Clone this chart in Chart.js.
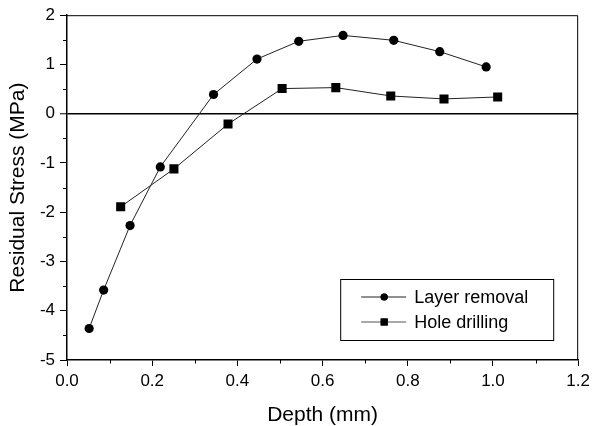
<!DOCTYPE html>
<html>
<head>
<meta charset="utf-8">
<script src="https://cdn.jsdelivr.net/npm/chart.js@4/dist/chart.umd.min.js"></script>
<style>
  html, body { margin: 0; padding: 0; background: #fff; }
  #wrap { width: 595px; height: 426px; }
</style>
</head>
<body>
<div id="wrap"><canvas id="stressChart"></canvas></div>
<script>
// depth (mm) and residual stress (MPa)
const layerDepth  = [0.052, 0.086, 0.148, 0.219, 0.344, 0.446, 0.544, 0.648, 0.767, 0.875, 0.984];
const layerStress = [-4.36, -3.58, -2.27, -1.08, 0.39, 1.11, 1.47, 1.59, 1.49, 1.26, 0.95];
const holeDepth   = [0.126, 0.251, 0.378, 0.505, 0.631, 0.760, 0.885, 1.011];
const holeStress  = [-1.89, -1.12, -0.21, 0.51, 0.53, 0.36, 0.30, 0.34];
const xTicks = [0.0, 0.2, 0.4, 0.6, 0.8, 1.0, 1.2];
const yTicks = [-5, -4, -3, -2, -1, 0, 1, 2];
const seriesNames = ['Layer removal', 'Hole drilling'];

const FONT = 'Liberation Sans, Arial, Helvetica, sans-serif';

function toPoints(xs, ys) {
  return xs.map((x, i) => ({ x: x, y: ys[i] }));
}

// minor ticks, top/right frame and the inset legend
const framePlugin = {
  id: 'frame',
  afterDraw(chart) {
    const ctx = chart.ctx;
    const area = chart.chartArea;
    const xs = chart.scales.x, ys = chart.scales.y;
    ctx.save();
    ctx.strokeStyle = '#000';
    ctx.lineWidth = 1;
    ctx.beginPath();
    ctx.moveTo(area.left, area.top + 0.5);
    ctx.lineTo(area.right - 0.5, area.top + 0.5);
    ctx.lineTo(area.right - 0.5, area.bottom);
    ctx.stroke();

    ctx.beginPath();
    for (let i = 0; i < xTicks.length - 1; i++) {
      const px = Math.round(xs.getPixelForValue((xTicks[i] + xTicks[i + 1]) / 2)) + 0.5;
      ctx.moveTo(px, area.bottom);
      ctx.lineTo(px, area.bottom + 3.5);
    }
    for (let i = 0; i < yTicks.length - 1; i++) {
      const py = Math.round(ys.getPixelForValue((yTicks[i] + yTicks[i + 1]) / 2)) + 0.5;
      ctx.moveTo(area.left, py);
      ctx.lineTo(area.left - 4, py);
    }
    ctx.stroke();

    // legend box
    const bw = 213, bh = 61;
    const bx = area.right - 25 - bw, by = area.bottom - 20 - bh;
    ctx.strokeRect(bx + 0.5, by + 0.5, bw, bh);
    chart.data.datasets.forEach((ds, i) => {
      const cy = by + 18 + i * 25;
      ctx.strokeStyle = i === 0 ? '#222' : '#555';
      ctx.lineWidth = 1;
      ctx.beginPath();
      ctx.moveTo(bx + 21, cy);
      ctx.lineTo(bx + 66, cy);
      ctx.stroke();
      Chart.helpers.drawPoint(ctx, {
        pointStyle: ds.pointStyle,
        radius: ds.pointRadius * 0.78,
        borderWidth: 0
      }, bx + 44, cy);
      ctx.fillStyle = '#000';
      ctx.fill();
      ctx.font = '18px ' + FONT;
      ctx.textBaseline = 'middle';
      ctx.textAlign = 'left';
      ctx.fillText(ds.label, bx + 74, cy + 1);
    });
    ctx.restore();
  }
};

new Chart(document.getElementById('stressChart'), {
  type: 'scatter',
  data: {
    datasets: [
      {
        label: seriesNames[0],
        data: toPoints(layerDepth, layerStress),
        showLine: true,
        borderColor: '#222',
        borderWidth: 1,
        pointStyle: 'circle',
        pointRadius: 4.6,
        pointBackgroundColor: '#000',
        pointBorderColor: '#000',
        pointBorderWidth: 0
      },
      {
        label: seriesNames[1],
        data: toPoints(holeDepth, holeStress),
        showLine: true,
        borderColor: '#222',
        borderWidth: 1,
        pointStyle: 'rect',
        pointRadius: 6.4,
        pointBackgroundColor: '#000',
        pointBorderColor: '#000',
        pointBorderWidth: 0
      }
    ]
  },
  options: {
    responsive: true,
    maintainAspectRatio: false,
    animation: false,
    layout: { padding: { left: 0, right: 13, top: 15, bottom: 0 } },
    plugins: {
      legend: { display: false },
      tooltip: { enabled: false }
    },
    scales: {
      x: {
        type: 'linear',
        min: 0,
        max: 1.2,
        afterFit(scale) { scale.height = 66; },
        afterBuildTicks(scale) { scale.ticks = xTicks.map(v => ({ value: v })); },
        ticks: {
          color: '#000',
          font: { family: FONT, size: 17 },
          padding: 5,
          callback: v => v.toFixed(1)
        },
        grid: { drawOnChartArea: false, tickLength: 6, tickColor: '#000', tickWidth: 1 },
        border: { display: true, color: '#000', width: 1.5 },
        title: {
          display: true,
          text: 'Depth (mm)',
          color: '#000',
          font: { family: FONT, size: 21, lineHeight: 1 },
          padding: { top: 0, bottom: 0 }
        }
      },
      y: {
        type: 'linear',
        min: -5,
        max: 2,
        afterFit(scale) { scale.width = 67; },
        afterBuildTicks(scale) { scale.ticks = yTicks.map(v => ({ value: v })); },
        ticks: {
          color: '#000',
          font: { family: FONT, size: 17 },
          padding: 5,
          callback: v => String(v)
        },
        grid: {
          drawOnChartArea: true,
          color: c => (c.tick && c.tick.value === 0 ? '#000' : 'rgba(0,0,0,0)'),
          lineWidth: c => (c.tick && c.tick.value === 0 ? 1.5 : 1),
          tickLength: 7,
          tickColor: '#000',
          tickWidth: 1
        },
        border: { display: true, color: '#000', width: 1.5 },
        title: {
          display: true,
          text: 'Residual Stress (MPa)',
          color: '#000',
          font: { family: FONT, size: 21, lineHeight: 1 },
          padding: { top: 8, bottom: 0 }
        }
      }
    }
  },
  plugins: [framePlugin]
});
</script>
</body>
</html>
